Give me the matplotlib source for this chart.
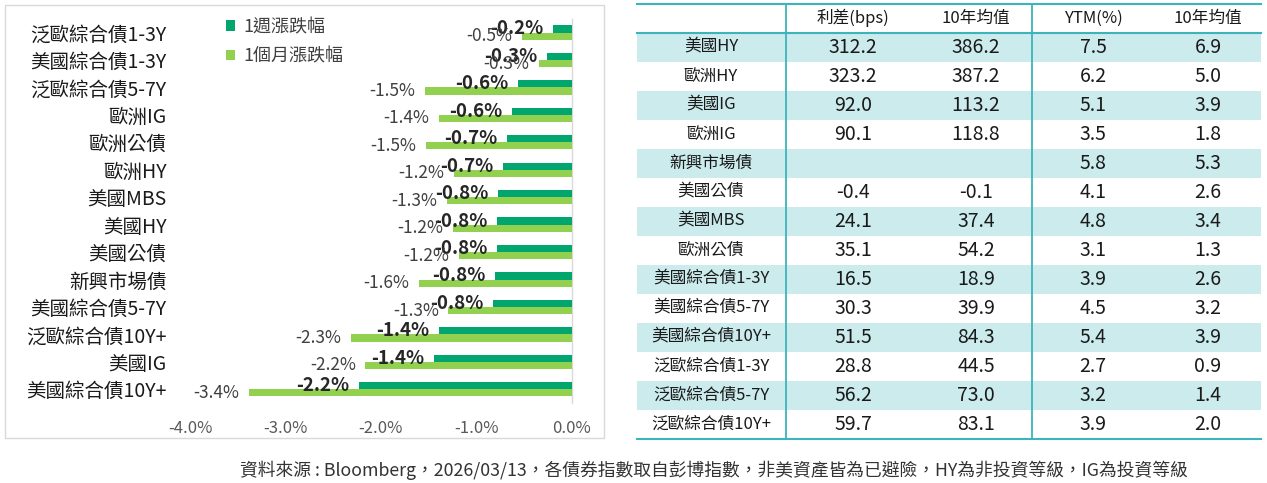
import matplotlib
matplotlib.use('Agg')
import matplotlib.pyplot as plt
from matplotlib.patches import Rectangle
import numpy as np

plt.rcParams['font.family'] = ['Noto Sans CJK TC', 'DejaVu Sans']

# ---------------- data ----------------
categories = ['泛歐綜合債1-3Y', '美國綜合債1-3Y', '泛歐綜合債5-7Y', '歐洲IG', '歐洲公債', '歐洲HY',
              '美國MBS', '美國HY', '美國公債', '新興市場債', '美國綜合債5-7Y', '泛歐綜合債10Y+',
              '美國IG', '美國綜合債10Y+']
week_chg = [-0.19, -0.26, -0.56, -0.62, -0.68, -0.72, -0.77, -0.78, -0.78, -0.80, -0.82, -1.39, -1.44, -2.23]
month_chg = [-0.52, -0.34, -1.54, -1.39, -1.53, -1.23, -1.31, -1.24, -1.18, -1.60, -1.29, -2.31, -2.16, -3.38]
series_names = ['1週漲跌幅', '1個月漲跌幅']
x_ticks = [-4.0, -3.0, -2.0, -1.0, 0.0]

table_header = ['', '利差(bps)', '10年均值', 'YTM(%)', '10年均值']
table_rows = ['美國HY', '歐洲HY', '美國IG', '歐洲IG', '新興市場債', '美國公債', '美國MBS', '歐洲公債',
              '美國綜合債1-3Y', '美國綜合債5-7Y', '美國綜合債10Y+', '泛歐綜合債1-3Y', '泛歐綜合債5-7Y',
              '泛歐綜合債10Y+']
spread = [312.2, 323.2, 92.0, 90.1, None, -0.4, 24.1, 35.1, 16.5, 30.3, 51.5, 28.8, 56.2, 59.7]
spread_avg = [386.2, 387.2, 113.2, 118.8, None, -0.1, 37.4, 54.2, 18.9, 39.9, 84.3, 44.5, 73.0, 83.1]
ytm = [7.5, 6.2, 5.1, 3.5, 5.8, 4.1, 4.8, 3.1, 3.9, 4.5, 5.4, 2.7, 3.2, 3.9]
ytm_avg = [6.9, 5.0, 3.9, 1.8, 5.3, 2.6, 3.4, 1.3, 2.6, 3.2, 3.9, 0.9, 1.4, 2.0]

footnote = '資料來源 : Bloomberg，2026/03/13，各債券指數取自彭博指數，非美資產皆為已避險，HY為非投資等級，IG為投資等級'

# ---------------- figure ----------------
W, H = 1267, 483
fig = plt.figure(figsize=(W / 100, H / 100), dpi=100)
fig.patch.set_facecolor('white')

DARK = '#00A66E'
LIGHT = '#92D050'

# overlay axes in pixel coordinates (for border, table)
bg = fig.add_axes([0, 0, 1, 1])
bg.set_xlim(0, W)
bg.set_ylim(H, 0)
bg.axis('off')
bg.add_patch(Rectangle((5, 5), 599, 433, fill=False, edgecolor='#D9D9D9', lw=1.0))

# ---------------- bar chart ----------------
ax_l, ax_r, ax_t, ax_b = 190, 571.5, 18.8, 403
ax = fig.add_axes([ax_l / W, 1 - ax_b / H, (ax_r - ax_l) / W, (ax_b - ax_t) / H])
ax.set_facecolor('none')
y = np.arange(len(categories))
bh = 0.26
b1 = ax.barh(y - bh / 2, week_chg, height=bh, color=DARK, label=series_names[0], zorder=3)
b2 = ax.barh(y + bh / 2, month_chg, height=bh, color=LIGHT, label=series_names[1], zorder=3)
ax.set_xlim(-4, 0)
ax.set_ylim(len(categories) - 0.5, -0.5)
ax.set_xticks(x_ticks)
ax.set_xticklabels([f'{v:.1f}%' for v in x_ticks], fontsize=12, color='#595959')
ax.set_yticks(y)
ax.set_yticklabels(categories, fontsize=14, color='#1a1a1a')
ax.tick_params(axis='both', length=0)
ax.tick_params(axis='x', pad=12)
ax.tick_params(axis='y', pad=17)
for s in ['top', 'left', 'bottom']:
    ax.spines[s].set_visible(False)
ax.spines['right'].set_color('#D9D9D9')
ax.spines['right'].set_linewidth(1.0)

ax.bar_label(b1, labels=[f'{v:.1f}%' for v in week_chg], padding=7, fontsize=13.5,
             fontweight='bold', color='#262626', zorder=5)
ax.bar_label(b2, labels=[f'{v:.1f}%' for v in month_chg], padding=7, fontsize=12.5,
             color='#404040', zorder=5)

leg = ax.legend(handles=[b1, b2], labels=series_names, loc='upper left',
                bbox_to_anchor=(226 / W, 1 - 18 / H), bbox_transform=fig.transFigure,
                frameon=False, fontsize=13, handlelength=0.5, handleheight=0.5,
                handletextpad=0.45, labelspacing=0.65, borderpad=0, borderaxespad=0)
for t in leg.get_texts():
    t.set_color('#404040')

# ---------------- table ----------------
TEAL = '#3CB4BA'
SHADE = '#CBEBED'
t_left, t_right = 637, 1261
top = 3.5
rh = 29.0
col_x = [711, 853, 976, 1093, 1208]
vlines = [786, 1032]
n = len(table_rows)
bottom = top + rh * (n + 1)

for i in range(n):
    if i % 2 == 0:
        bg.add_patch(Rectangle((t_left, top + rh * (i + 1)), t_right - t_left, rh,
                               facecolor=SHADE, edgecolor='none', zorder=1))

bg.plot([t_left, t_right], [top, top], color=TEAL, lw=1.5, zorder=3)
bg.plot([t_left, t_right], [top + rh, top + rh], color=TEAL, lw=1.5, zorder=3)
bg.plot([t_left, t_right], [bottom, bottom], color=TEAL, lw=1.5, zorder=3)
for vx in vlines:
    bg.plot([vx, vx], [top, bottom], color=TEAL, lw=1.3, zorder=3)

for j, h in enumerate(table_header):
    if h:
        bg.text(col_x[j], top + rh / 2, h, ha='center', va='center', fontsize=12,
                color='#1a1a1a', zorder=4)

cols = [spread, spread_avg, ytm, ytm_avg]
for i, name in enumerate(table_rows):
    cy = top + rh * (i + 1) + rh / 2
    bg.text(col_x[0], cy, name, ha='center', va='center', fontsize=12, color='#1a1a1a', zorder=4)
    for j, col in enumerate(cols):
        v = col[i]
        if v is None:
            continue
        bg.text(col_x[j + 1], cy + 0.5, f'{v:.1f}', ha='center', va='center', fontsize=14,
                color='#1a1a1a', zorder=4)

# ---------------- footnote ----------------
bg.text(714, 470, footnote, ha='center', va='center', fontsize=12.8, color='#333333')

fig.savefig('out.png', dpi=100, facecolor='white')
